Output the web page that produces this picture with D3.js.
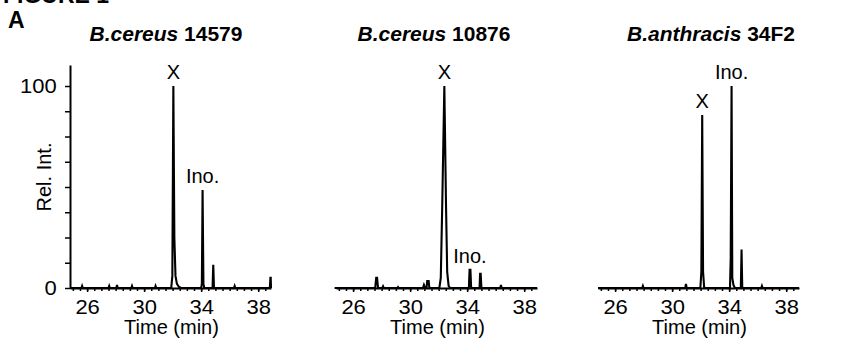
<!DOCTYPE html>
<html>
<head>
<meta charset="utf-8">
<script src="https://cdn.jsdelivr.net/npm/d3@7"></script>
<style>
  body { margin: 0; background: #fff; }
  svg { display: block; font-family: "Liberation Sans", Arial, sans-serif; }
</style>
</head>
<body>
<svg id="chart" width="848" height="344"></svg>
<script>
// panel titles
const titleSpecies = ['B.cereus', 'B.cereus', 'B.anthracis'];
const titleStrain = ['14579', '10876', '34F2'];

// axis ticks
const xTickLabels = [26, 30, 34, 38];
const yTickLabels = [0, 100];

// chromatograms (time in min, relative intensity)
const time14579 = [24.8, 25.6, 25.65, 25.7, 27.5, 27.55, 27.6, 28.05, 28.1, 28.15, 29.1, 29.15, 29.2, 30.75, 30.8, 30.85,
  31.9, 31.98, 32.05, 32.12, 32.2, 32.3, 32.45, 32.6, 34.0, 34.05, 34.1, 34.16, 34.22, 34.8, 34.85, 34.9,
  36.3, 36.35, 36.4, 38.82, 38.86, 38.88, 38.9];
const int14579 = [0, 0, 1, 0, 0, 1, 0, 0, 1.5, 0, 0, 1, 0, 0, 1, 0,
  0, 6, 100, 25, 6, 2, 0.5, 0, 0, 2, 48.5, 2, 0, 0, 11.5, 0,
  0, 1, 0, 0, 5, 5, 0];

const time10876 = [24.7, 27.55, 27.62, 27.68, 27.75, 28.05, 28.1, 28.15, 29.1, 29.15, 29.2, 30.9, 30.97, 31.05, 31.15, 31.2, 31.3, 31.35,
  32.05, 32.15, 32.25, 32.4, 32.52, 32.6, 32.7, 32.8, 34.12, 34.17, 34.23, 34.28, 34.87, 34.91, 34.95, 35.0,
  36.32, 36.37, 36.42, 38.9];
const int10876 = [0, 0, 5, 5, 0, 0, 0.8, 0, 0, 0.5, 0, 0, 1.5, 0, 0, 3.5, 3.5, 0,
  0, 5, 40, 100, 40, 8, 1, 0, 0, 9, 9, 0, 0, 7, 7, 0,
  0, 1.5, 0, 0];

const time34F2 = [24.8, 27.9, 27.95, 28.0, 30.92, 30.97, 31.02, 31.98, 32.05, 32.11, 32.17, 32.25,
  34.06, 34.11, 34.17, 34.22, 34.3, 34.4, 34.82, 34.87, 34.92, 36.25, 36.3, 36.35, 38.9];
const int34F2 = [0, 0, 1, 0, 0, 2, 0, 0, 8, 85.6, 8, 0,
  0, 15, 100, 5, 1.5, 0, 0, 19, 0, 0, 1, 0, 0];

// peak annotations
const peakNames = ['X', 'Ino.'];
const peakTime14579 = [32.05, 34.1];
const peakInt14579 = [100, 48.5];
const peakTime10876 = [32.4, 34.2];
const peakInt10876 = [100, 9];
const peakTime34F2 = [32.11, 34.17];
const peakInt34F2 = [85.6, 100];

const panels = [
  { time: time14579, inten: int14579, pt: peakTime14579, pi: peakInt14579, x0: 70, titleX: 166, yAxis: true },
  { time: time10876, inten: int10876, pt: peakTime10876, pi: peakInt10876, x0: 336, titleX: 434, yAxis: false },
  { time: time34F2, inten: int34F2, pt: peakTime34F2, pi: peakInt34F2, x0: 598, titleX: 711, yAxis: false }
];

const svg = d3.select('#chart');
const fontSize = 20;
const baseY = 288, topY = 65, axisW = 201;

const y = d3.scaleLinear().domain([0, 110.4]).range([baseY, topY]);

// figure heading (cut off at top) and panel letter
svg.append('text').attr('x', 3).attr('y', 3).attr('font-size', 23).attr('font-weight', 'bold').text('FIGURE 1');
svg.append('text').attr('x', 8).attr('y', 28).attr('font-size', 23).attr('font-weight', 'bold').text('A');

panels.forEach((p, i) => {
  const x = d3.scaleLinear().domain([24.8, 38.9]).range([p.x0, p.x0 + axisW]);
  const g = svg.append('g');

  // title
  const t = g.append('text')
    .attr('transform', `translate(${p.titleX},41) scale(1.05,1)`)
    .attr('text-anchor', 'middle')
    .attr('font-size', fontSize)
    .attr('font-weight', 'bold');
  t.append('tspan').attr('font-style', 'italic').text(titleSpecies[i]);
  t.append('tspan').text(' ' + titleStrain[i]);

  // minor x ticks
  g.append('g')
    .attr('transform', `translate(0,${baseY})`)
    .call(d3.axisBottom(x).tickValues(d3.range(25, 39, 0.5)).tickSizeInner(3).tickSizeOuter(0).tickFormat(''))
    .call(s => s.select('.domain').remove())
    .call(s => s.selectAll('line').attr('stroke-width', 1.5));

  // main x axis
  const xa = g.append('g')
    .attr('transform', `translate(0,${baseY})`)
    .call(d3.axisBottom(x).tickValues(xTickLabels).tickSizeInner(4).tickSizeOuter(0).tickPadding(8));
  xa.select('.domain').attr('stroke-width', 2);
  xa.selectAll('line').attr('stroke-width', 1.5);
  xa.selectAll('text').attr('font-size', fontSize).attr('font-family', null).attr('fill', '#000')
    .attr('transform', 'scale(1.1,1)');

  g.append('text')
    .attr('x', p.x0 + axisW / 2 + 1)
    .attr('y', 334)
    .attr('text-anchor', 'middle')
    .attr('font-size', fontSize)
    .text('Time (min)');

  if (p.yAxis) {
    const ya = g.append('g')
      .attr('transform', `translate(${p.x0},0)`)
      .call(d3.axisLeft(y).tickValues(d3.range(0, 100.1, 12.5)).tickSizeInner(5).tickSizeOuter(0).tickPadding(7)
        .tickFormat(d => yTickLabels.includes(d) ? d : ''));
    ya.select('.domain').attr('stroke-width', 2);
    ya.selectAll('line').attr('stroke-width', 1.5);
    ya.selectAll('text').attr('font-size', fontSize).attr('font-family', null).attr('fill', '#000')
      .attr('transform', 'scale(1.1,1)');

    g.append('text')
      .attr('transform', 'translate(51,177) rotate(-90)')
      .attr('text-anchor', 'middle')
      .attr('font-size', fontSize)
      .text('Rel. Int.');
  }

  // trace
  const line = d3.line().x((d, k) => x(p.time[k])).y(d => y(d));
  g.append('path')
    .datum(p.inten)
    .attr('d', line)
    .attr('fill', 'none')
    .attr('stroke', '#000')
    .attr('stroke-width', 2.1)
    .attr('stroke-linejoin', 'miter');

  // peak labels
  peakNames.forEach((name, k) => {
    g.append('text')
      .attr('x', x(p.pt[k]))
      .attr('y', y(p.pi[k]) - 7)
      .attr('text-anchor', 'middle')
      .attr('font-size', fontSize)
      .text(name);
  });
});
</script>
</body>
</html>
